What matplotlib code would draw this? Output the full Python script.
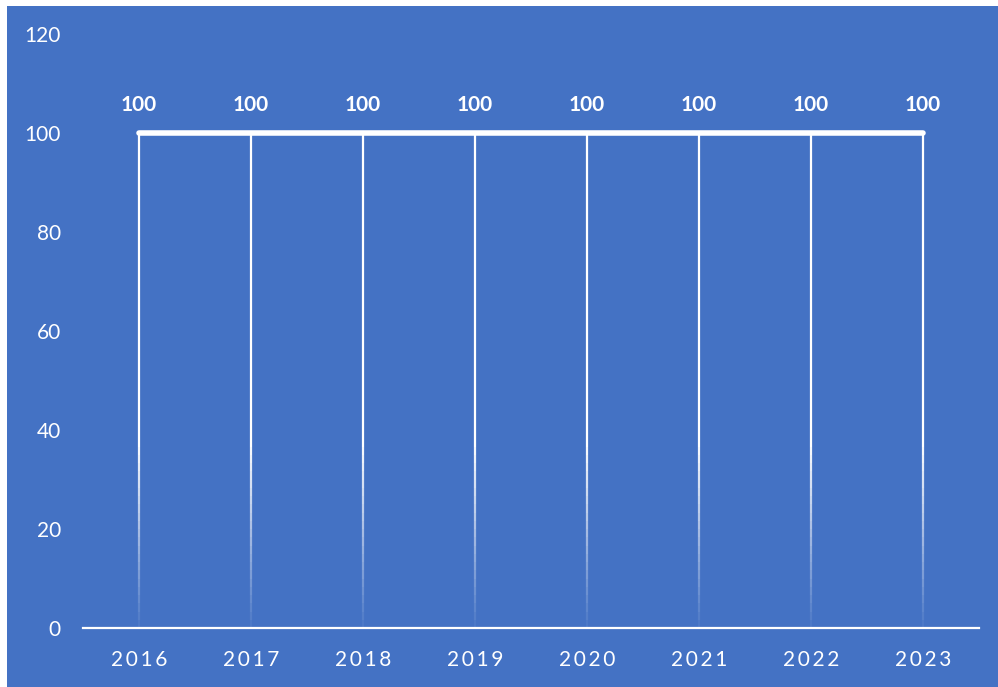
import numpy as np
import matplotlib.pyplot as plt
from matplotlib.patches import Rectangle

years = [2016, 2017, 2018, 2019, 2020, 2021, 2022, 2023]
values = [100, 100, 100, 100, 100, 100, 100, 100]

blue = "#4472C4"
plt.rcParams['font.family'] = ['Lato', 'DejaVu Sans']

fig = plt.figure(figsize=(9.98, 6.87), dpi=100)
fig.patch.set_facecolor("white")
fig.patches.append(Rectangle((7 / 998, 0), 1, 1 - 6 / 687, transform=fig.transFigure,
                             facecolor=blue, edgecolor="none", zorder=-10))

ax = fig.add_axes([83 / 998, 59 / 687, 896 / 998, 594 / 687])
ax.set_facecolor("none")

x = np.arange(len(years))

# drop lines fading towards the axis
n = 60
for xi, v in zip(x, values):
    ys = np.linspace(0, v, n + 1)
    for k in range(n):
        frac = ys[k] / v
        a = min(1.0, 0.05 + frac * 2.6)
        ax.plot([xi, xi], [ys[k], ys[k + 1]], color="white", lw=1.6, alpha=a,
                solid_capstyle="butt", zorder=2)

ax.plot(x, values, color="white", lw=4, solid_capstyle="round", zorder=3)

for xi, v in zip(x, values):
    ax.annotate(str(v), (xi, v), xytext=(0, 13), textcoords="offset points",
                ha="center", va="bottom", color="white", fontsize=15, fontweight="bold")

ax.set_xlim(-0.5, len(years) - 0.5)
ax.set_ylim(0, 120)
ax.set_yticks(range(0, 121, 20))
ax.set_xticks(x)
ax.set_xticklabels(["\u2009".join(str(y)) for y in years])

for s in ["top", "left", "right"]:
    ax.spines[s].set_visible(False)
ax.spines["bottom"].set_color("white")
ax.spines["bottom"].set_linewidth(1.6)

ax.tick_params(axis="both", length=0, colors="white", labelsize=15)
ax.tick_params(axis="y", pad=16)
ax.tick_params(axis="x", pad=16)

plt.savefig("out.png", dpi=100)
